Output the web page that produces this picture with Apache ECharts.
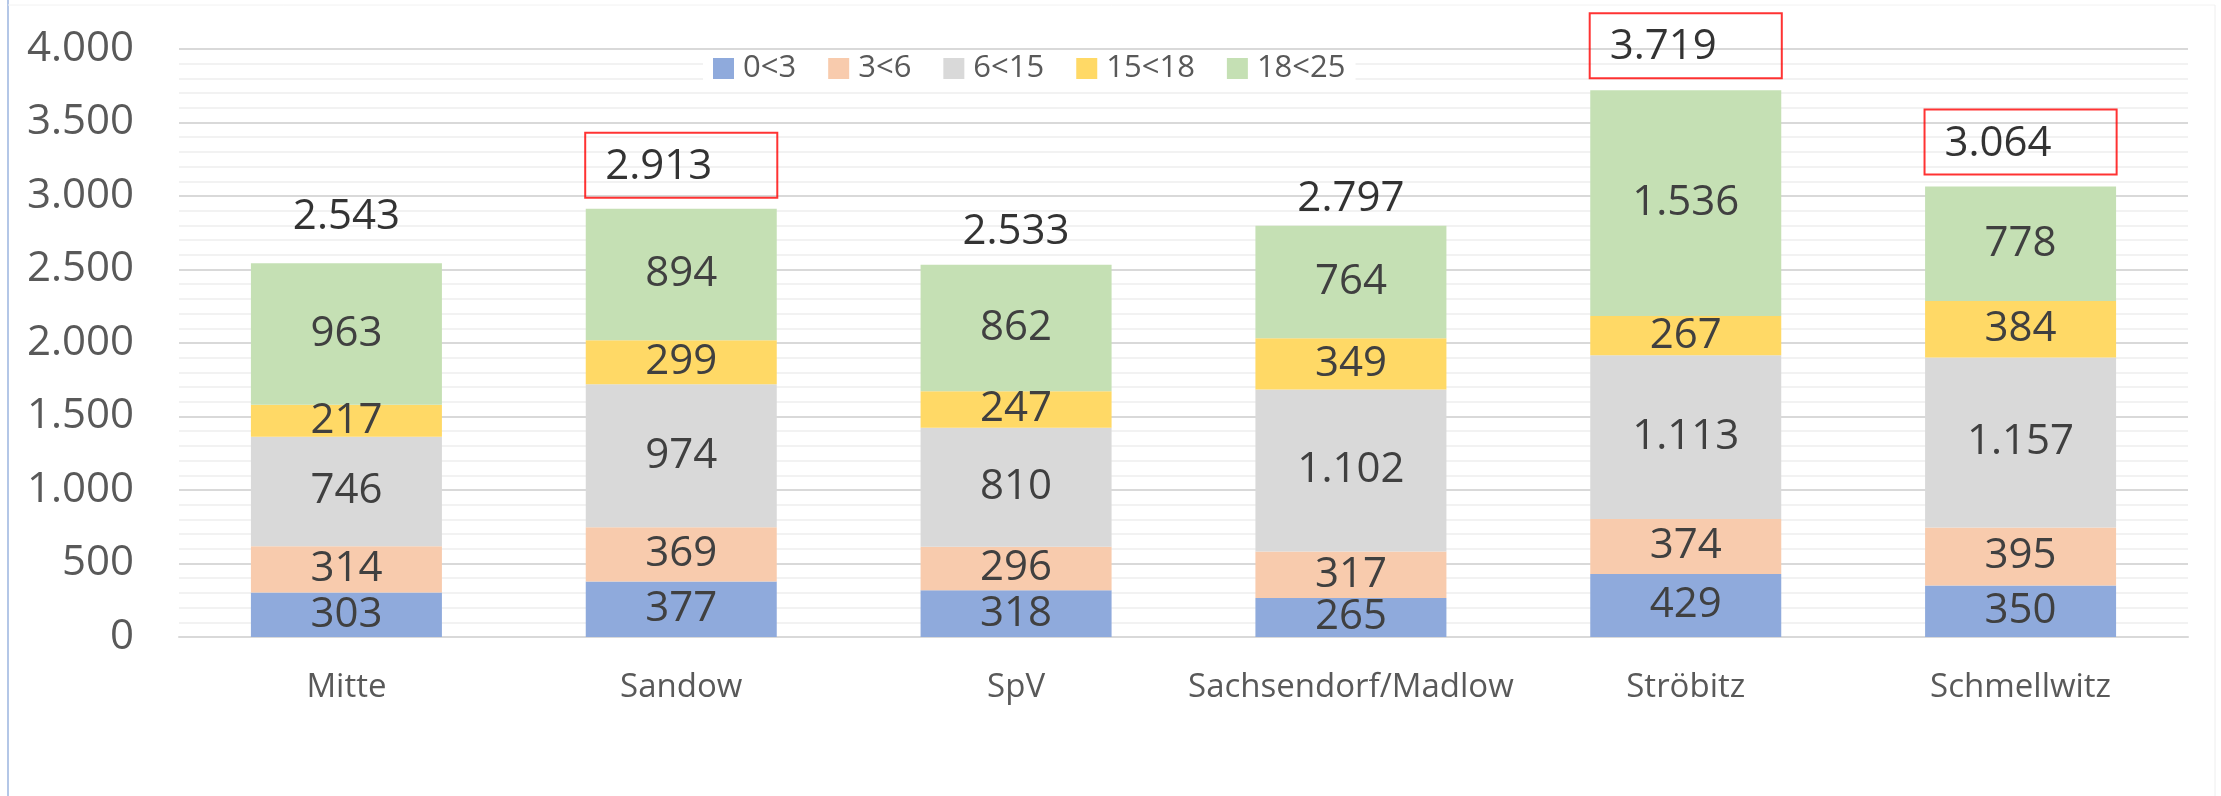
<!DOCTYPE html>
<html>
<head>
<meta charset="utf-8">
<title>Altersgruppen nach Stadtteil</title>
<script src="https://cdn.jsdelivr.net/npm/echarts@6/dist/echarts.min.js"></script>
<style>
  html, body { margin: 0; padding: 0; background: #ffffff; }
  #chart { width: 2221px; height: 796px; }
</style>
</head>
<body>
<div id="chart"></div>
<script>
// Stadtteile
const categories = ["Mitte", "Sandow", "SpV", "Sachsendorf/Madlow", "Ströbitz", "Schmellwitz"];

// Altersgruppen (Legende)
const groups = ["0<3", "3<6", "6<15", "15<18", "18<25"];

const age0to3 = [303, 377, 318, 265, 429, 350];
const age3to6 = [314, 369, 296, 317, 374, 395];
const age6to15 = [746, 974, 810, 1102, 1113, 1157];
const age15to18 = [217, 299, 247, 349, 267, 384];
const age18to25 = [963, 894, 862, 764, 1536, 778];

// Stadtteile mit roter Markierung der Summe
const highlighted = ["Sandow", "Ströbitz", "Schmellwitz"];

const seriesValues = [age0to3, age3to6, age6to15, age15to18, age18to25];
const colors = ["#8faadc", "#f8cbad", "#d9d9d9", "#ffd966", "#c5e0b4"];
const FONT = "'Open Sans', 'Noto Sans', sans-serif";

// deutsche Tausendertrennung
function de(v) {
  return String(v).replace(/\B(?=(\d{3})+(?!\d))/g, ".");
}

const totals = categories.map((c, i) =>
  seriesValues.reduce((sum, arr) => sum + arr[i], 0)
);

// Abstand der Summen-Labels über dem Balken (manuell wie im Original)
const totalDistance = {
  "Mitte": 25,
  "Sandow": 11,
  "SpV": 12,
  "Sachsendorf/Madlow": 6,
  "Ströbitz": 12,
  "Schmellwitz": 12,
};

const chart = echarts.init(document.getElementById("chart"));

const barSeries = groups.map((name, k) => ({
  name: name,
  type: "bar",
  stack: "gesamt",
  barWidth: 191,
  data: seriesValues[k],
  itemStyle: { color: colors[k] },
  label: {
    show: true,
    position: "inside",
    fontFamily: FONT,
    fontSize: 42,
    color: "#404040",
    formatter: (p) => de(p.value),
  },
  emphasis: { disabled: true },
}));

const totalSeries = {
  name: "Summe",
  type: "scatter",
  symbolSize: 0,
  silent: true,
  z: 5,
  data: totals.map((t, i) => {
    const boxed = highlighted.indexOf(categories[i]) >= 0;
    const item = {
      value: t,
      label: { distance: totalDistance[categories[i]] },
    };
    if (boxed) {
      item.label.borderColor = "#ff0000";
      item.label.borderWidth = 2;
      item.label.padding = [13, 65, 10, 20];
    }
    return item;
  }),
  label: {
    show: true,
    position: "top",
    fontFamily: FONT,
    fontSize: 42,
    color: "#000000",
    formatter: (p) => de(p.value),
  },
};

const option = {
  backgroundColor: "#ffffff",
  animation: false,
  textStyle: { fontFamily: FONT },
  legend: {
    data: groups,
    left: 703,
    top: 51,
    itemWidth: 21,
    itemHeight: 21,
    itemGap: 32,
    padding: [2, 10, 2, 10],
    backgroundColor: "#ffffff",
    icon: "rect",
    textStyle: {
      fontFamily: FONT,
      fontSize: 31,
      lineHeight: 22,
      color: "#595959",
      padding: [0, 0, 0, 4],
    },
  },
  grid: {
    left: 179,
    right: 33,
    top: 49,
    bottom: 159,
  },
  xAxis: {
    type: "category",
    data: categories,
    axisTick: { show: false },
    axisLine: { lineStyle: { color: "#d9d9d9", width: 2 } },
    axisLabel: {
      interval: 0,
      fontFamily: FONT,
      fontSize: 33,
      color: "#595959",
      margin: 34,
    },
  },
  yAxis: {
    type: "value",
    min: 0,
    max: 4000,
    interval: 500,
    axisLine: { show: false },
    axisTick: { show: false },
    axisLabel: {
      fontFamily: FONT,
      fontSize: 42,
      color: "#595959",
      margin: 45,
      formatter: (v) => de(v),
    },
    splitLine: { lineStyle: { color: "#d9d9d9", width: 2 } },
    minorTick: { show: false, splitNumber: 5 },
    minorSplitLine: { show: true, lineStyle: { color: "#f2f2f2", width: 2 } },
  },
  graphic: [
    { type: "line", shape: { x1: 8, y1: 0, x2: 8, y2: 796 }, style: { stroke: "#b4c7e7", lineWidth: 2 } },
    { type: "line", shape: { x1: 8, y1: 5, x2: 2215, y2: 5 }, style: { stroke: "#f2f2f2", lineWidth: 1 } },
    { type: "line", shape: { x1: 2215, y1: 5, x2: 2215, y2: 796 }, style: { stroke: "#eeeeee", lineWidth: 1 } },
  ],
  series: [...barSeries, totalSeries],
};

chart.setOption(option);
</script>
</body>
</html>
